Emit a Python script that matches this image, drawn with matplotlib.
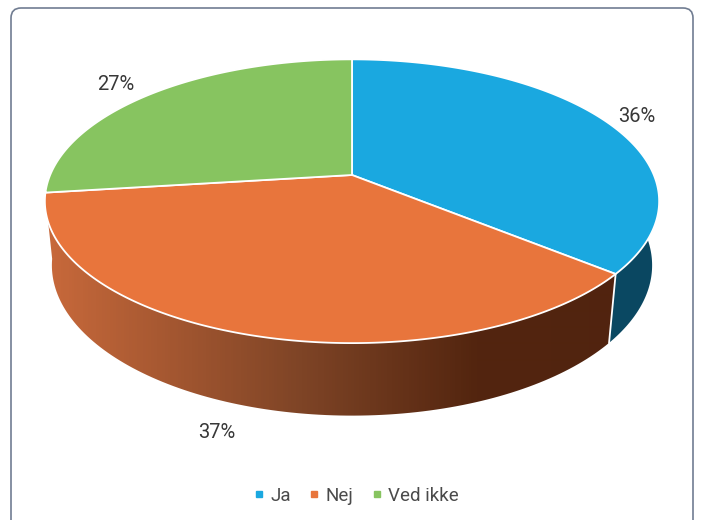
import numpy as np
import matplotlib
matplotlib.use('Agg')
import matplotlib.pyplot as plt
from matplotlib.colors import LinearSegmentedColormap
from matplotlib.patches import Polygon, FancyBboxPatch
from matplotlib.lines import Line2D

plt.rcParams['font.family'] = ['Roboto', 'DejaVu Sans']

labels = ['Ja', 'Nej', 'Ved ikke']
shares = [36, 37, 27]
top_colors = ['#1aa8e0', '#e8753c', '#87c460']
# side wall shading, left -> right across the figure
side_stops = [
    [(0.0, '#0d5170'), (0.8, '#0b4a64'), (1.0, '#0a4660')],
    [(0.0, '#cc6c3d'), (0.065, '#c8693b'), (0.43, '#7e4426'), (0.68, '#53250f'), (1.0, '#50230f')],
    [(0.0, '#5f8f40'), (1.0, '#4a7232')],
]
label_pos = [(637, 116), (217, 433), (116, 84)]

W, H = 702, 520
fig = plt.figure(figsize=(W / 100, H / 100), dpi=100)
ax = fig.add_axes([0, 0, 1, 1])
ax.set_xlim(0, W)
ax.set_ylim(H, 0)
ax.axis('off')

# rounded frame
frame = FancyBboxPatch((11, 8), 682, 560, boxstyle='round,pad=0,rounding_size=10',
                       facecolor='white', edgecolor='#717d92', lw=1.2, zorder=0)
ax.add_patch(frame)

# perspective view of a flat cylinder
tilt = np.radians(27)
ct, st = np.cos(tilt), np.sin(tilt)
dist = 5.41 * ct
K = 1455
cx, cy = 352, 175
thick = 0.24


def project(theta_deg, z):
    t = np.radians(theta_deg)
    x, y = np.cos(t), np.sin(t)
    depth = y * ct + dist - z * st
    return cx + K * x / depth, cy - K * (y * st + z * ct) / depth


bounds = 90 - 360 * np.concatenate([[0], np.cumsum(shares)]) / 100.0
grad = np.linspace(0, 1, W).reshape(1, -1)

# side walls (visible front part only)
for i in range(len(shares)):
    a0, a1 = bounds[i], bounds[i + 1]
    hi, lo = min(a0, 10), max(a1, -172)
    if lo >= hi:
        continue
    th = np.linspace(hi, lo, 120)
    tx, ty = project(th, 0)
    bx, by = project(th[::-1], -thick)
    poly = Polygon(np.column_stack([np.r_[tx, bx], np.r_[ty, by]]),
                   closed=True, facecolor='none', edgecolor='none', zorder=1)
    ax.add_patch(poly)
    cmap = LinearSegmentedColormap.from_list(f'side{i}', side_stops[i])
    im = ax.imshow(grad, cmap=cmap, extent=(0, W, H, 0), aspect='auto',
                   interpolation='bilinear', zorder=1)
    im.set_clip_path(poly)

# seam between wall sections
for b in bounds[1:-1]:
    if -172 < b < 10:
        x0, y0 = project(b, 0)
        x1, y1 = project(b, -thick)
        ax.plot([x0, x1], [y0, y1], color='white', lw=1.3, zorder=3)

# top faces
for i in range(len(shares)):
    th = np.linspace(bounds[i], bounds[i + 1], 200)
    ex, ey = project(th, 0)
    pts = np.column_stack([np.r_[cx, ex], np.r_[cy, ey]])
    ax.add_patch(Polygon(pts, closed=True, facecolor=top_colors[i],
                         edgecolor='white', lw=1.3, joinstyle='miter', zorder=2))

for v, (lx, ly) in zip(shares, label_pos):
    ax.text(lx, ly, f'{v}%', ha='center', va='center', fontsize=14.5, color='#383838', zorder=4)

handles = [Line2D([], [], marker='s', ls='none', markersize=5, color=c) for c in top_colors]
fig.legend(handles, labels, loc='center', bbox_to_anchor=(357 / W, 1 - 496 / H), ncol=3,
           frameon=False, fontsize=13.5, labelcolor='#4a4a4a', handlelength=0.4,
           handletextpad=0.4, columnspacing=1.05)

fig.savefig('out.png', dpi=100)
